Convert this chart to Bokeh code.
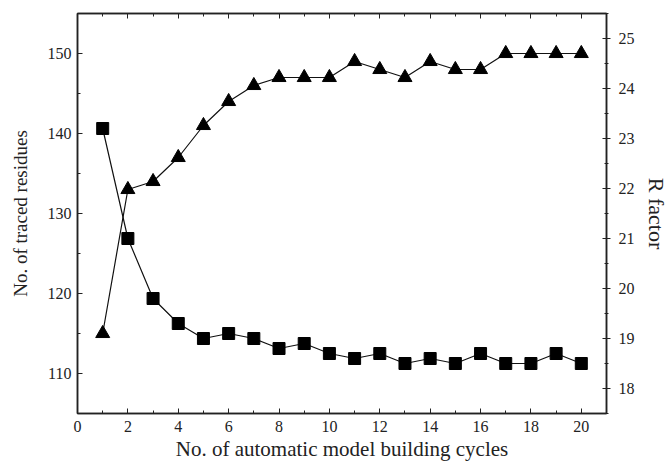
from bokeh.plotting import figure
from bokeh.models import LinearAxis, Range1d, FixedTicker, CustomJSTickFormatter
from bokeh.embed import file_html
from bokeh.resources import INLINE

cycles = list(range(1, 21))
traced_residues = [115, 133, 134, 137, 141, 144, 146, 147, 147, 147,
                   149, 148, 147, 149, 148, 148, 150, 150, 150, 150]
r_factor = [23.2, 21.0, 19.8, 19.3, 19.0, 19.1, 19.0, 18.8, 18.9, 18.7,
            18.6, 18.7, 18.5, 18.6, 18.5, 18.7, 18.5, 18.5, 18.7, 18.5]
x_ticks = [0, 2, 4, 6, 8, 10, 12, 14, 16, 18, 20]
left_ticks = [110, 120, 130, 140, 150]
right_ticks = [18, 19, 20, 21, 22, 23, 24, 25]

FONT = "Liberation Serif"
AX = "#222222"

p = figure(width=671, height=464, output_backend="svg", toolbar_location=None,
           x_range=Range1d(0, 21), y_range=Range1d(105, 155),
           min_border_left=77, min_border_right=63, min_border_top=13,
           min_border_bottom=51)
p.extra_y_ranges = {"r": Range1d(17.5, 25.5)}
p.grid.visible = False
p.outline_line_color = AX
p.outline_line_width = 1.5
p.background_fill_color = "white"
p.border_fill_color = "white"

def style(ax, tin, tout):
    ax.axis_line_color = AX
    ax.axis_line_width = 1.5
    ax.major_tick_line_color = AX
    ax.minor_tick_line_color = AX
    ax.major_tick_in = tin
    ax.major_tick_out = tout
    ax.minor_tick_in = max(tin - 2, 0)
    ax.minor_tick_out = max(tout - 2, 0)
    ax.major_label_text_font = FONT
    ax.major_label_text_font_size = "16px"
    ax.major_label_text_color = "#222222"
    ax.axis_label_text_font = FONT
    ax.axis_label_text_font_style = "normal"
    ax.axis_label_text_color = "#222222"

xb = p.xaxis[0]
xb.ticker = FixedTicker(ticks=x_ticks, minor_ticks=list(range(1, 21, 2)))
xb.axis_label = "No. of automatic model building cycles"
style(xb, 5, 0)
xb.axis_label_text_font_size = "21px"
xb.major_label_standoff = 7
xb.axis_label_standoff = 2

yl = p.yaxis[0]
yl.ticker = FixedTicker(ticks=left_ticks, minor_ticks=[105, 115, 125, 135, 145, 155])
yl.axis_label = "No. of traced residues"
style(yl, 5, 0)
yl.axis_label_text_font_size = "19px"
yl.major_label_standoff = 6
yl.axis_label_standoff = 14

xt = LinearAxis(ticker=FixedTicker(ticks=x_ticks, minor_ticks=list(range(1, 21, 2))),
                formatter=CustomJSTickFormatter(code="return ''"))
style(xt, 5, 0)
xt.major_label_standoff = 0
p.add_layout(xt, "above")

yr = LinearAxis(y_range_name="r",
                ticker=FixedTicker(ticks=right_ticks,
                                   minor_ticks=[v / 2 for v in range(35, 52)]))
style(yr, 4, 4)
yr.axis_label = "R factor"
yr.axis_label_text_font_size = "22px"
yr.major_label_standoff = 8
yr.axis_label_standoff = 6
p.add_layout(yr, "right")

p.line(cycles, traced_residues, line_color="#111111", line_width=1.2)
p.scatter(cycles, traced_residues, marker="triangle", size=14,
          fill_color="black", line_color="black")
p.line(cycles, r_factor, line_color="#111111", line_width=1.2, y_range_name="r")
p.scatter(cycles, r_factor, marker="square", size=12,
          fill_color="black", line_color="black", y_range_name="r")

open("out.html", "w").write(file_html(p, INLINE))
